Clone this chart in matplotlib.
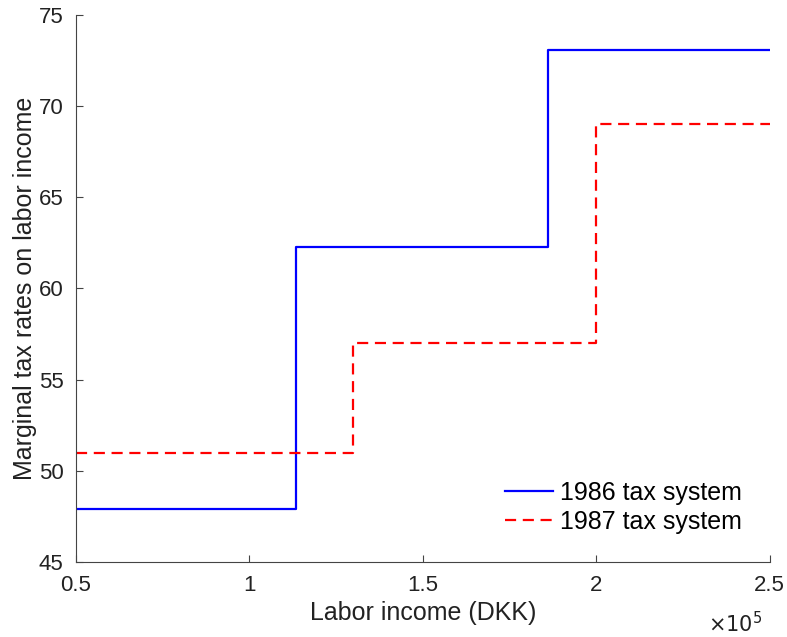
from matplotlib import pyplot as plt
from matplotlib.ticker import FuncFormatter

plt.rcParams['font.family'] = ['Liberation Sans', 'DejaVu Sans']

# step breakpoints (DKK) and marginal rates (%)
income_1986 = [50000, 113300, 186000, 250000]
rate_1986 = [47.9, 62.3, 73.1, 73.1]
income_1987 = [50000, 130000, 200000, 250000]
rate_1987 = [51.0, 57.0, 69.0, 69.0]

fig = plt.figure(figsize=(7.87, 6.37), dpi=100)
ax = fig.add_axes([0.0966, 0.1177, 0.8814, 0.8588])

ax.step(income_1986, rate_1986, where='post', color='blue', lw=1.6, label='1986 tax system')
ax.step(income_1987, rate_1987, where='post', color='red', lw=1.6, linestyle=(0, (5, 3)),
        label='1987 tax system')

ax.set_xlim(50000, 250000)
ax.set_ylim(45, 75)
ax.set_xticks([50000, 100000, 150000, 200000, 250000])
ax.set_yticks([45, 50, 55, 60, 65, 70, 75])
ax.xaxis.set_major_formatter(FuncFormatter(lambda v, p: f'{v/1e5:g}'))
ax.text(0.99, -0.113, r'$\times10^5$', transform=ax.transAxes, ha='right', va='center',
        fontsize=15, color='#222222')

for s in ['top', 'right']:
    ax.spines[s].set_visible(False)
for s in ['left', 'bottom']:
    ax.spines[s].set_color('#444444')
ax.tick_params(direction='in', length=5, color='#444444', labelsize=16, labelcolor='#222222', pad=9)

ax.set_xlabel('Labor income (DKK)', fontsize=18, color='#222222', labelpad=4)
ax.set_ylabel('Marginal tax rates on labor income', fontsize=18, color='#222222', labelpad=1)
ax.legend(loc='lower right', frameon=False, fontsize=18, handlelength=1.9, handletextpad=0.3,
          labelspacing=0.2, bbox_to_anchor=(0.993, 0.01))

fig.savefig('out.png')
